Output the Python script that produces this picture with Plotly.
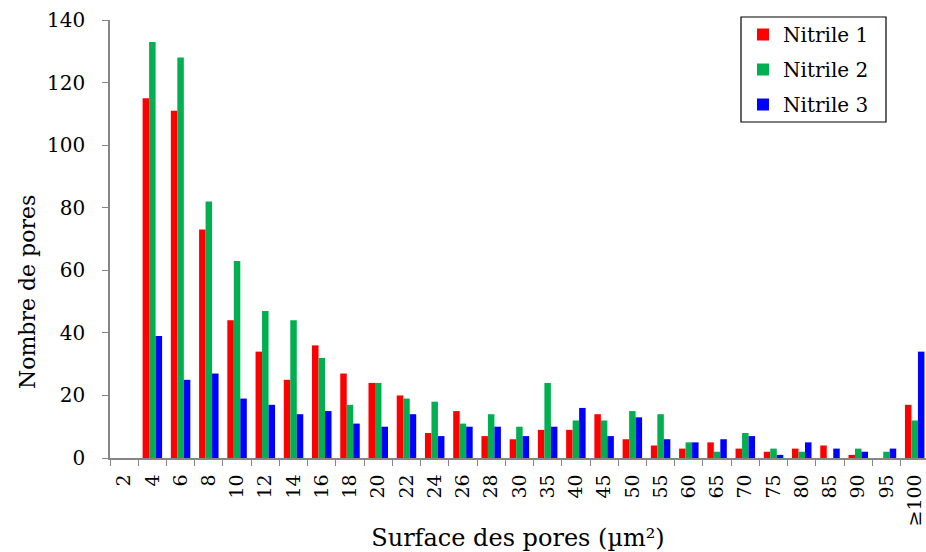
import plotly.graph_objects as go

# Pore-area classes (µm²) and pore counts for the three nitrile samples
categories = ["2", "4", "6", "8", "10", "12", "14", "16", "18", "20", "22", "24", "26", "28", "30",
              "35", "40", "45", "50", "55", "60", "65", "70", "75", "80", "85", "90", "95", "≥100"]
nitrile_1 = [0, 115, 111, 73, 44, 34, 25, 36, 27, 24, 20, 8, 15, 7, 6,
             9, 9, 14, 6, 4, 3, 5, 3, 2, 3, 4, 1, 0, 17]
nitrile_2 = [0, 133, 128, 82, 63, 47, 44, 32, 17, 24, 19, 18, 11, 14, 10,
             24, 12, 12, 15, 14, 5, 2, 8, 3, 2, 0, 3, 2, 12]
nitrile_3 = [0, 39, 25, 27, 19, 17, 14, 15, 11, 10, 14, 7, 10, 10, 7,
             10, 16, 7, 13, 6, 5, 6, 7, 1, 5, 3, 2, 3, 34]
y_ticks = [0, 20, 40, 60, 80, 100, 120, 140]

series = [("Nitrile 1", nitrile_1, "#FF0000"),
          ("Nitrile 2", nitrile_2, "#00B050"),
          ("Nitrile 3", nitrile_3, "#0000FF")]

FONT = "DejaVu Serif"
AXIS_GREY = "#868686"

# plot area in pixels: x 110..926, y 20..458
PLOT_L, PLOT_W, PLOT_B, PLOT_H = 110, 816, 458, 438


def px_x(px):
    return (px - PLOT_L) / PLOT_W


def px_y(py):
    return (PLOT_B - py) / PLOT_H


fig = go.Figure()
for i, (name, vals, color) in enumerate(series):
    fig.add_trace(go.Bar(x=categories, y=vals, name=name, marker_color=color,
                         marker_line_width=0, legendgroup=f"g{i}"))

fig.update_layout(
    width=926, height=552,
    margin=dict(l=PLOT_L, r=0, t=20, b=94),
    paper_bgcolor="white", plot_bgcolor="white",
    barmode="group", bargap=0.31, bargroupgap=0,
    font=dict(family=FONT, size=19, color="black"),
    showlegend=True,
    legend=dict(x=px_x(743), xanchor="left", y=px_y(15), yanchor="top",
                borderwidth=0, bgcolor="rgba(0,0,0,0)",
                font=dict(family=FONT, size=20, color="black"),
                tracegroupgap=6, itemwidth=30),
    # legend frame
    shapes=[dict(type="rect", xref="paper", yref="paper",
                 x0=px_x(741), x1=px_x(886), y0=px_y(122), y1=px_y(17),
                 line=dict(color="black", width=1.2), fillcolor="rgba(0,0,0,0)",
                 layer="above")],
    # y-axis title, set slightly below the middle of the axis
    annotations=[dict(text="Nombre de pores", textangle=-90, showarrow=False,
                      xref="paper", yref="paper", x=px_x(27), y=px_y(292),
                      xanchor="center", yanchor="middle",
                      font=dict(family=FONT, size=22, color="black"))],
)

fig.update_xaxes(
    type="category", categoryorder="array", categoryarray=categories,
    tickmode="array", tickvals=categories, ticktext=categories,
    range=[-0.5, 28.4], tickangle=-90, tickson="boundaries",
    ticks="outside", ticklen=6, tickcolor=AXIS_GREY, tickwidth=1,
    ticklabelstandoff=7,
    showline=True, linecolor=AXIS_GREY, linewidth=1.5, showgrid=False,
    tickfont=dict(family=FONT, size=19, color="black"),
    title=dict(text="Surface des pores (µm²)", font=dict(family=FONT, size=24), standoff=9),
)
fig.update_yaxes(
    range=[0, 140], tickvals=y_ticks, ticks="outside", ticklen=6,
    tickcolor=AXIS_GREY, tickwidth=1, ticklabelstandoff=13,
    showline=True, linecolor=AXIS_GREY,
    linewidth=1.5, showgrid=False, zeroline=False,
    tickfont=dict(family=FONT, size=20, color="black"),
)

fig.write_html("out.html")
